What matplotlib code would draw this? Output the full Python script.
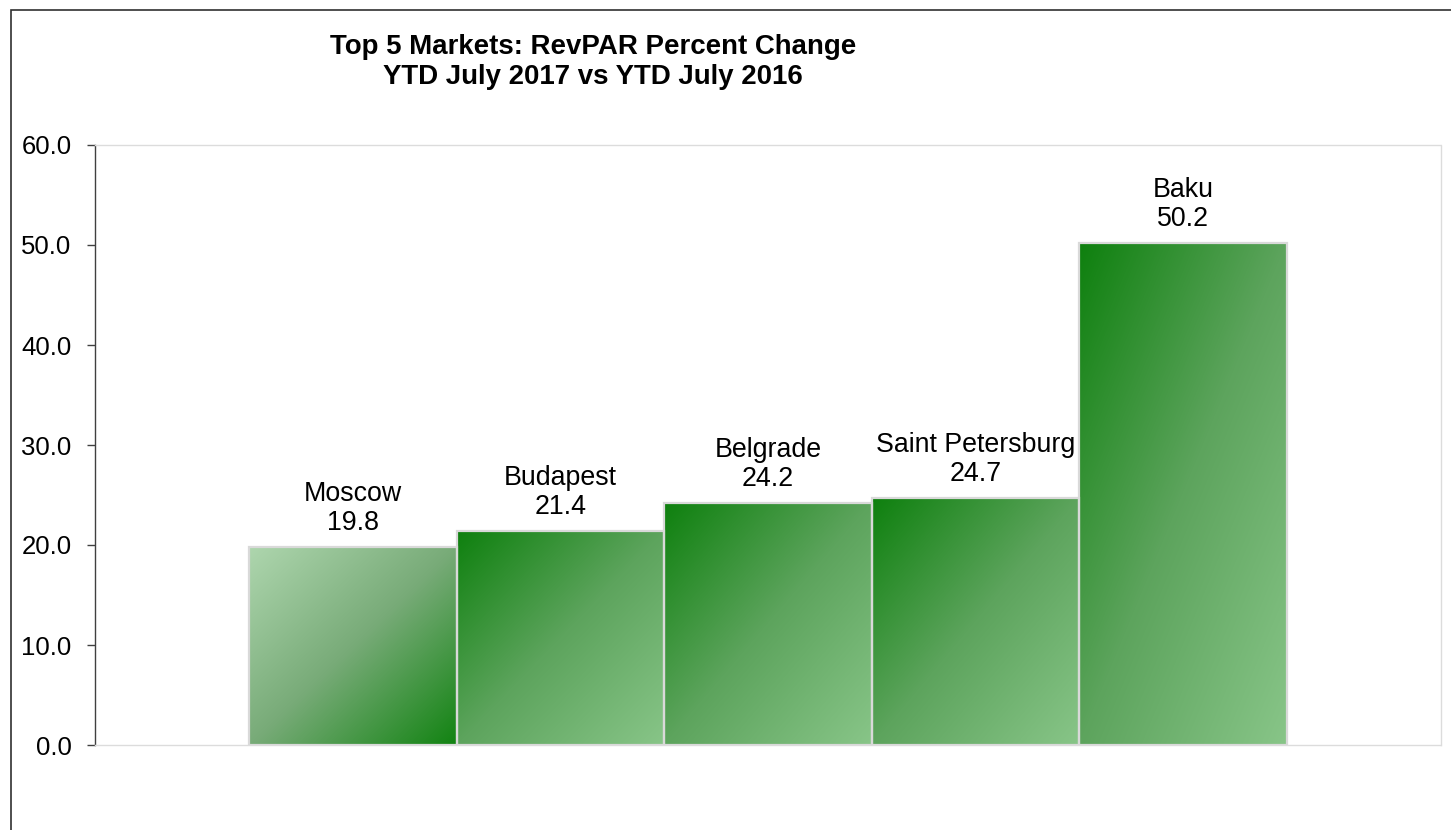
import matplotlib

matplotlib.use("Agg")
import matplotlib.pyplot as plt
import numpy as np
from matplotlib.colors import LinearSegmentedColormap
from matplotlib.patches import Rectangle


MARKETS = ["Moscow", "Budapest", "Belgrade", "Saint Petersburg", "Baku"]
REVPAR_CHANGE = [19.8, 21.4, 24.2, 24.7, 50.2]
Y_TICKS = [0, 10, 20, 30, 40, 50, 60]

TITLE_LINE_1 = "Top 5 Markets: RevPAR Percent Change"
TITLE_LINE_2 = "YTD July 2017 vs YTD July 2016"

# gradient stops (top-left -> middle -> bottom-right) for each bar
GREEN_STOPS = ("#0e800e", "#5da45d", "#88c588")
GRADIENTS = [
    ("#aed6ae", "#78ab78", "#128312"),
    GREEN_STOPS,
    GREEN_STOPS,
    GREEN_STOPS,
    GREEN_STOPS,
]


def configure_matplotlib() -> None:
    plt.rcParams["font.family"] = ["Liberation Sans", "DejaVu Sans"]
    plt.rcParams["figure.facecolor"] = "white"
    plt.rcParams["axes.facecolor"] = "white"


def gradient_field(size: int = 200) -> np.ndarray:
    u = np.linspace(0.0, 1.0, size)
    v = np.linspace(0.0, 1.0, size)
    uu, vv = np.meshgrid(u, v)
    return (uu + vv) / 2.0


def main() -> None:
    configure_matplotlib()

    fig = plt.figure(figsize=(14.51, 8.30), dpi=100)
    ax = fig.add_axes([95 / 1451, 85 / 830, (1441 - 95) / 1451, 600 / 830])

    positions = np.arange(len(MARKETS))
    bars = ax.bar(
        positions,
        REVPAR_CHANGE,
        width=1.0,
        facecolor="none",
        edgecolor="#d9d9d9",
        linewidth=1.6,
        zorder=3,
    )

    field = gradient_field()
    for bar, stops in zip(bars, GRADIENTS):
        cmap = LinearSegmentedColormap.from_list("bar", list(stops))
        x0 = bar.get_x()
        ax.imshow(
            field,
            cmap=cmap,
            vmin=0.0,
            vmax=1.0,
            extent=(x0, x0 + bar.get_width(), 0, bar.get_height()),
            origin="upper",
            aspect="auto",
            interpolation="bilinear",
            zorder=2,
        )

    for bar, name, value in zip(bars, MARKETS, REVPAR_CHANGE):
        cx = bar.get_x() + bar.get_width() / 2
        ax.annotate(f"{value:.1f}", (cx, value), xytext=(0, 17), textcoords="offset points",
                    ha="center", va="center", fontsize=19.3, color="black")
        ax.annotate(name, (cx, value), xytext=(0, 38.5), textcoords="offset points",
                    ha="center", va="center", fontsize=19.3, color="black")

    ax.set_xlim(-1.243, len(MARKETS) - 1 + 1.243)
    ax.set_ylim(0, 60)
    ax.set_yticks(Y_TICKS)
    ax.set_yticklabels([f"{t:.1f}" for t in Y_TICKS])
    ax.set_xticks([])
    ax.tick_params(axis="y", direction="out", length=6, width=1.0, color="#404040",
                   labelsize=18.5, pad=11)

    ax.spines["left"].set_color("#404040")
    ax.spines["left"].set_linewidth(1.0)
    for side in ("top", "right", "bottom"):
        ax.spines[side].set_color("#dcdcdc")
        ax.spines[side].set_linewidth(1.0)
        ax.spines[side].set_linestyle((0, (1.5, 1)))

    fig.text(593 / 1451, 1 - 47 / 830, TITLE_LINE_1, ha="center", va="center",
             fontsize=19.9, fontweight="bold")
    fig.text(593 / 1451, 1 - 77 / 830, TITLE_LINE_2, ha="center", va="center",
             fontsize=19.9, fontweight="bold")

    # outer chart frame, running off the right and bottom edges
    fig.patches.append(Rectangle((11 / 1451, -0.1), 1.2, 1.1 - 10.5 / 830,
                                 transform=fig.transFigure, fill=False,
                                 edgecolor="#303030", linewidth=1.2))

    fig.savefig("out.png", dpi=100)
    plt.close(fig)


if __name__ == "__main__":
    main()
